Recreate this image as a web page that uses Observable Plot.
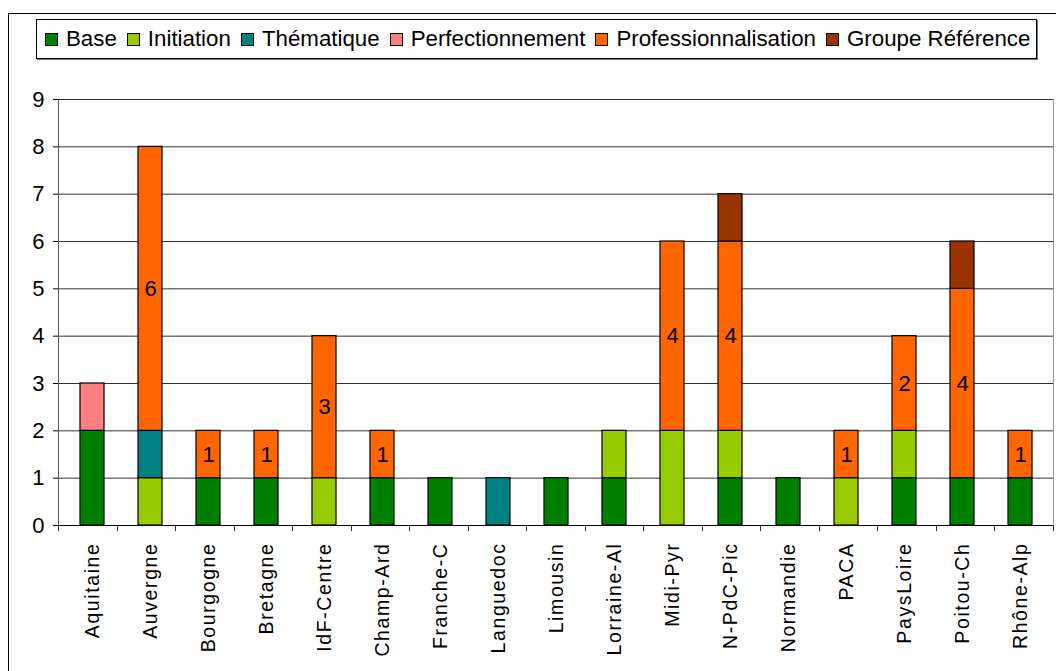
<!DOCTYPE html>
<html>
<head>
<meta charset="utf-8">
<script src="https://cdn.jsdelivr.net/npm/d3@7"></script>
<script src="https://cdn.jsdelivr.net/npm/@observablehq/plot@0.6"></script>
<style>
  html, body { margin: 0; padding: 0; background: #fff; }
  body { width: 1056px; height: 671px; overflow: hidden; position: relative; font-family: "Liberation Sans", Arial, sans-serif; }
  #outer { position: absolute; left: 8px; top: 13px; width: 1100px; height: 720px; border: 1px solid #000; box-sizing: border-box; }
  #legend { position: absolute; left: 36px; top: 19px; width: 1001px; height: 40px; border: 1px solid #000; box-sizing: border-box; box-shadow: 1px 1px 0 #777; background: #fff; display: flex; align-items: center; padding-left: 8px; font-size: 22.3px; color: #000; z-index: 2; white-space: nowrap; }
  .item { display: flex; align-items: center; margin-right: 10px; white-space: nowrap; }
  .sw { width: 11px; height: 11px; border: 1px solid #000; margin-right: 8px; }
  #chart { position: absolute; left: 0; top: 0; z-index: 1; }
  #chart svg { overflow: visible; }
  #chart g[aria-label="x-axis tick label"] text { letter-spacing: 1.6px; }
  #chart g[aria-label="y-axis tick label"] text { font-size: 22px; }
</style>
</head>
<body>
<div id="outer"></div>
<div id="legend"></div>
<div id="chart"></div>
<script>
const regions = ["Aquitaine","Auvergne","Bourgogne","Bretagne","IdF-Centre","Champ-Ard","Franche-C","Languedoc","Limousin","Lorraine-Al","Midi-Pyr","N-PdC-Pic","Normandie","PACA","PaysLoire","Poitou-Ch","Rhône-Alp"];
const seriesNames = ["Base","Initiation","Thématique","Perfectionnement","Professionnalisation","Groupe Référence"];
const seriesColors = ["#008000","#99CC00","#008080","#FF8080","#FF6600","#993300"];
const base          = [2,0,1,1,0,1,1,0,1,1,0,1,1,0,1,1,1];
const initiation    = [0,1,0,0,1,0,0,0,0,1,2,1,0,1,1,0,0];
const thematique    = [0,1,0,0,0,0,0,1,0,0,0,0,0,0,0,0,0];
const perfection    = [1,0,0,0,0,0,0,0,0,0,0,0,0,0,0,0,0];
const professionnal = [0,6,1,1,3,1,0,0,0,0,4,4,0,1,2,4,1];
const groupeRef     = [0,0,0,0,0,0,0,0,0,0,0,1,0,0,0,1,0];
const yTicks = [0,1,2,3,4,5,6,7,8,9];
const labelledSeries = "Professionnalisation";

const seriesValues = [base, initiation, thematique, perfection, professionnal, groupeRef];
const data = [];
seriesNames.forEach((s, si) => {
  regions.forEach((r, ri) => {
    const v = seriesValues[si][ri];
    if (v > 0) data.push({region: r, series: s, value: v});
  });
});

// legend
const legend = document.getElementById("legend");
seriesNames.forEach((s, i) => {
  const it = document.createElement("div");
  it.className = "item";
  const sw = document.createElement("div");
  sw.className = "sw";
  sw.style.background = seriesColors[i];
  const tx = document.createElement("span");
  tx.textContent = s;
  it.appendChild(sw); it.appendChild(tx);
  legend.appendChild(it);
});

function frameLines(index, scales, values, dims) {
  const {width, height, marginLeft, marginRight, marginTop, marginBottom} = dims;
  const x0 = marginLeft, x1 = width - marginRight, y0 = marginTop, y1 = height - marginBottom;
  const g = d3.create("svg:g").attr("fill", "none").attr("stroke", "#000").attr("stroke-width", 1);
  const n = regions.length, step = (x1 - x0) / n;
  for (let i = 0; i <= n; i++) {
    const xx = Math.round(x0 + i * step) + 0.5;
    g.append("line").attr("x1", xx).attr("x2", xx).attr("y1", y1).attr("y2", y1 + 6).attr("stroke", "#333");
  }
  g.append("line").attr("x1", x0 + 0.5).attr("x2", x0 + 0.5).attr("y1", y0).attr("y2", y1).attr("stroke", "#555");
  g.append("line").attr("x1", x1 + 0.5).attr("x2", x1 + 0.5).attr("y1", y0).attr("y2", y1).attr("stroke", "#999");
  g.append("line").attr("x1", x0).attr("x2", x1).attr("y1", y1 + 0.5).attr("y2", y1 + 0.5).attr("stroke", "#000");
  return g.node();
}

const chart = Plot.plot({
  width: 1056,
  height: 671,
  marginLeft: 58,
  marginRight: 3,
  marginTop: 99,
  marginBottom: 146,
  style: {fontFamily: "'Liberation Sans', Arial, sans-serif", color: "#000", background: "transparent"},
  x: {domain: regions, paddingInner: 0.59, paddingOuter: 0.295, label: null},
  y: {domain: [0, 9], label: null},
  color: {domain: seriesNames, range: seriesColors},
  marks: [
    Plot.gridY(yTicks, {stroke: "#000", strokeOpacity: 0.8}),
    Plot.barY(data, {x: "region", y: "value", z: "series", fill: "series", order: seriesNames, stroke: "#000", strokeWidth: 1.2}),
    Plot.text(data, Plot.stackY({x: "region", y: "value", z: "series", order: seriesNames,
      text: d => d.series === labelledSeries ? String(d.value) : "", fontSize: 22, fill: "#000"})),
    Plot.axisY({ticks: yTicks, tickSize: 5, tickPadding: 9, fontSize: 22, label: null, tickFormat: d => String(d)}),
    Plot.axisX({tickSize: 0, tickRotate: -90, textAnchor: "end", tickPadding: 17, fontSize: 19.5, label: null}),
    frameLines
  ]
});
document.getElementById("chart").appendChild(chart);
</script>
</body>
</html>
